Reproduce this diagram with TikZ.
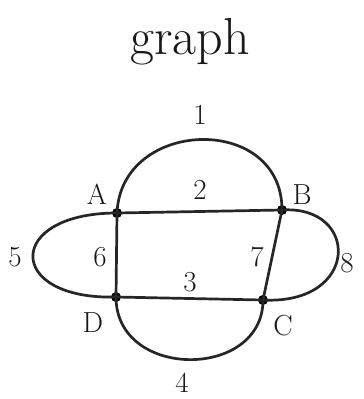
\documentclass[tikz,border=0pt]{standalone}
\begin{document}
\begin{tikzpicture}[x=1pt,y=-1pt,
  vtx/.style={circle,fill=black,inner sep=0pt,minimum size=10pt},
  edge/.style={line width=2.7pt,draw=black!85,line cap=round},
  lbl/.style={font=\fontsize{29}{33}\selectfont,inner sep=0pt,text=black!90},
  ttl/.style={font=\fontsize{52}{58}\selectfont,inner sep=0pt,text=black!90}]
\useasboundingbox (0,0) rectangle (364,399);
\node[vtx] (A) at (117,213) {};
\node[vtx] (B) at (282,210) {};
\node[vtx] (C) at (263,300) {};
\node[vtx] (D) at (116,297) {};
% edges
\draw[edge] (A.center) .. controls (121,118) and (282,113) .. (B.center);
\draw[edge] (A.center) -- (B.center);
\draw[edge] (D.center) -- (C.center);
\draw[edge] (D.center) .. controls (116,380) and (263,380) .. (C.center);
\draw[edge] (A.center) .. controls (5,213) and (5,300) .. (D.center);
\draw[edge] (A.center) -- (D.center);
\draw[edge] (B.center) -- (C.center);
\draw[edge] (B.center) .. controls (360,205) and (360,305) .. (C.center);
% labels
\node[ttl] (title) at (190,42) {graph};
\node[lbl] (l1) at (200,115) {1};
\node[lbl] (l2) at (200,190) {2};
\node[lbl] (l3) at (190,282) {3};
\node[lbl] (l4) at (182,383) {4};
\node[lbl] (l5) at (15,257) {5};
\node[lbl] (l6) at (100,257) {6};
\node[lbl] (l7) at (257,257) {7};
\node[lbl] (l8) at (347,263) {8};
\node[lbl] (lA) at (97,194) {A};
\node[lbl] (lB) at (302,195) {B};
\node[lbl] (lC) at (283,326) {C};
\node[lbl] (lD) at (93,323) {D};
\end{tikzpicture}
\end{document}
